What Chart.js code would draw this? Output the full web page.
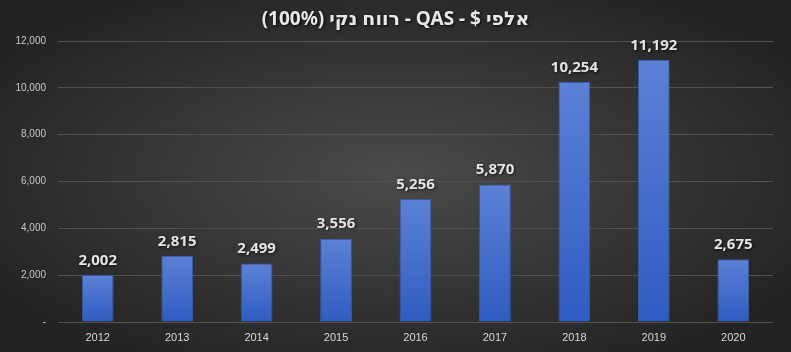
<!DOCTYPE html>
<html>
<head>
<meta charset="utf-8">
<script src="https://cdn.jsdelivr.net/npm/chart.js@4"></script>
<style>
  html, body { margin: 0; padding: 0; background: #333; }
  #wrap { width: 791px; height: 352px; }
</style>
</head>
<body>
<div id="wrap"><canvas id="chart"></canvas></div>
<script>
// data
const years = ['2012', '2013', '2014', '2015', '2016', '2017', '2018', '2019', '2020'];
const netProfit = [2002, 2815, 2499, 3556, 5256, 5870, 10254, 11192, 2675];
const yTicks = [0, 2000, 4000, 6000, 8000, 10000, 12000];
const chartTitle = 'אלפי $ - QAS - רווח נקי (100%)';

const fmt = v => v === 0 ? '-' : v.toLocaleString('en-US');

// dark radial background + RTL title
const backdrop = {
  id: 'backdrop',
  beforeDraw(chart) {
    const ctx = chart.ctx, w = chart.width, h = chart.height;
    ctx.save();
    ctx.translate(w / 2, h / 2);
    ctx.scale(1, h / w);
    const g = ctx.createRadialGradient(0, 0, 0, 0, 0, w * 0.6);
    g.addColorStop(0, '#4a4a4a');
    g.addColorStop(1, '#232323');
    ctx.fillStyle = g;
    ctx.fillRect(-w, -w, w * 2, w * 2);
    ctx.restore();

    ctx.save();
    ctx.direction = 'rtl';
    ctx.textAlign = 'center';
    ctx.textBaseline = 'middle';
    ctx.font = 'bold 19px "Noto Sans", "DejaVu Sans", sans-serif';
    ctx.shadowColor = 'rgba(0,0,0,0.8)';
    ctx.shadowBlur = 3;
    ctx.shadowOffsetX = 1;
    ctx.shadowOffsetY = 1;
    ctx.fillStyle = '#e8e8e8';
    ctx.fillText(chartTitle, w / 2, 20);
    ctx.restore();
  }
};

// value labels above the bars
const valueLabels = {
  id: 'valueLabels',
  afterDatasetsDraw(chart) {
    const ctx = chart.ctx;
    const meta = chart.getDatasetMeta(0);
    ctx.save();
    ctx.textAlign = 'center';
    ctx.textBaseline = 'bottom';
    ctx.font = 'bold 15px "Noto Sans", "DejaVu Sans", sans-serif';
    ctx.shadowColor = 'rgba(0,0,0,0.7)';
    ctx.shadowBlur = 3;
    ctx.shadowOffsetX = 1;
    ctx.shadowOffsetY = 1;
    ctx.fillStyle = '#e4e4e4';
    meta.data.forEach((bar, i) => {
      ctx.fillText(fmt(netProfit[i]), bar.x, bar.y - 7);
    });
    ctx.restore();
  }
};

function barFill(context) {
  const chart = context.chart;
  const y = chart.scales.y;
  if (!y || !chart.chartArea) return '#4a70cc';
  const top = y.getPixelForValue(context.raw);
  const bottom = y.getPixelForValue(0);
  const g = chart.ctx.createLinearGradient(0, top, 0, bottom);
  g.addColorStop(0, '#5c81d6');
  g.addColorStop(1, '#2f5cc1');
  return g;
}

new Chart(document.getElementById('chart'), {
  type: 'bar',
  data: {
    labels: years,
    datasets: [{
      data: netProfit,
      backgroundColor: barFill,
      borderColor: '#3a5aa6',
      borderWidth: 1,
      categoryPercentage: 1,
      barPercentage: 0.4
    }]
  },
  options: {
    responsive: true,
    maintainAspectRatio: false,
    animation: false,
    layout: { padding: { top: 41, right: 18, left: 0, bottom: 0 } },
    plugins: {
      legend: { display: false },
      tooltip: { enabled: false }
    },
    scales: {
      x: {
        grid: { display: false },
        border: { display: false },
        ticks: {
          color: '#d8d8d8',
          font: { family: '"Liberation Sans", Arial, sans-serif', size: 11 },
          padding: 1
        },
        afterFit(scale) { scale.height = 30; }
      },
      y: {
        min: 0,
        max: 12000,
        afterBuildTicks(scale) { scale.ticks = yTicks.map(v => ({ value: v })); },
        grid: { color: '#525252', lineWidth: 1, drawTicks: false },
        border: { display: false },
        ticks: {
          color: '#c8c8c8',
          font: { family: '"Liberation Sans", Arial, sans-serif', size: 10 },
          padding: 12,
          callback: v => fmt(v)
        },
        afterFit(scale) { scale.width = 58; }
      }
    }
  },
  plugins: [backdrop, valueLabels]
});
</script>
</body>
</html>
